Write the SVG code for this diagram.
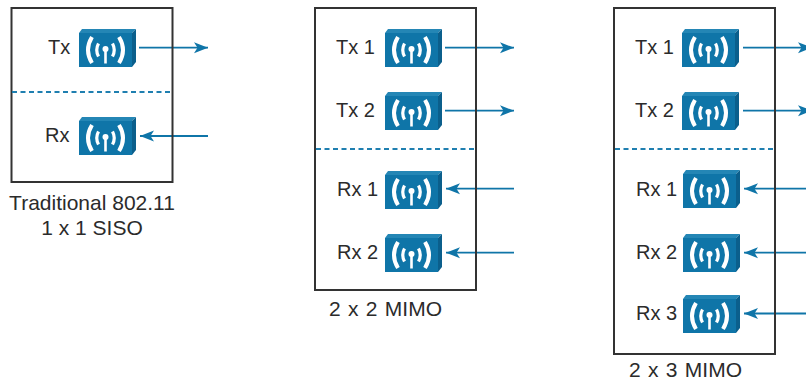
<svg xmlns="http://www.w3.org/2000/svg" width="806" height="382" viewBox="0 0 806 382">
<style>
.box{fill:none;stroke:#333;stroke-width:2}
.div{fill:none;stroke:#1f7fb0;stroke-width:2;stroke-dasharray:5 3.500}
.wire{fill:none;stroke:#0f75a8;stroke-width:1.800}
text{font-family:"Liberation Sans",Arial,sans-serif;font-size:21px;fill:#2b2b2b}
.l{font-size:20px}
.m{text-anchor:middle}
.s{word-spacing:1.500px}
.g{fill:none;stroke:#fff}
</style>
<defs>
<marker id="head" markerUnits="userSpaceOnUse" markerWidth="15" markerHeight="12" refX="14" refY="6" orient="auto"><path d="M0 0.500L14 6L0 11.500L3.500 6Z" fill="#0f75a8"/></marker>
<g id="ap">
<path d="M0 4L3 0H57L53 4Z" fill="#2486b5"/>
<path d="M53 4L57 0V33L53 38Z" fill="#0b5f8c"/>
<rect x="0" y="4" width="53" height="34" fill="#0f75a8"/>
<path class="g" stroke-width="4" d="M13 8Q5 21 13 34M40 8Q48 21 40 34"/>
<path class="g" stroke-width="3.200" d="M19.500 14.500Q16 21 19.500 27.500M33.500 14.500Q37 21 33.500 27.500"/>
<path d="M26.500 34.500V20" stroke="#fff" stroke-width="2.600" fill="none"/>
<circle cx="26.500" cy="20" r="3" fill="#fff"/>
</g>
</defs>
<g id="connectors">
<path class="wire" marker-end="url(#head)" d="M139 47.700H208"/>
<path class="wire" marker-end="url(#head)" d="M208 136H140"/>
<path class="wire" marker-end="url(#head)" d="M445 47.700H514"/>
<path class="wire" marker-end="url(#head)" d="M445 110.700H514"/>
<path class="wire" marker-end="url(#head)" d="M514 188.700H446"/>
<path class="wire" marker-end="url(#head)" d="M514 252.700H446"/>
<path class="wire" marker-end="url(#head)" d="M743 47.700H812"/>
<path class="wire" marker-end="url(#head)" d="M743 110.700H812"/>
<path class="wire" marker-end="url(#head)" d="M813 188.700H744"/>
<path class="wire" marker-end="url(#head)" d="M813 252.700H744"/>
<path class="wire" marker-end="url(#head)" d="M813 313.500H744"/>
</g>
<g id="siso">
<rect class="box" x="11.500" y="8" width="161" height="174"/>
<path class="div" d="M12 92H172"/>
<text class="m" x="92" y="210">Traditional 802.11</text>
<text class="m" x="92" y="235">1 x 1 SISO</text>
</g>
<g id="siso-tx"><text class="l" x="48" y="54">Tx</text><use href="#ap" x="79" y="29"/></g>
<g id="siso-rx"><text class="l" x="45" y="142">Rx</text><use href="#ap" x="79" y="117"/></g>
<g id="mimo22">
<rect class="box" x="315" y="8" width="161" height="282"/>
<path class="div" d="M316 149H476"/>
<text class="s" x="329" y="316">2 x 2 MIMO</text>
</g>
<g id="m22-tx1"><text class="l" x="336" y="54">Tx 1</text><use href="#ap" x="385" y="29"/></g>
<g id="m22-tx2"><text class="l" x="336" y="117">Tx 2</text><use href="#ap" x="385" y="92"/></g>
<g id="m22-rx1"><text class="l" x="337" y="196">Rx 1</text><use href="#ap" x="385" y="171"/></g>
<g id="m22-rx2"><text class="l" x="337" y="259">Rx 2</text><use href="#ap" x="385" y="234"/></g>
<g id="mimo23">
<rect class="box" x="614" y="8" width="161" height="346"/>
<path class="div" d="M615 149H775"/>
<text class="s" x="629" y="377">2 x 3 MIMO</text>
</g>
<g id="m23-tx1"><text class="l" x="635" y="54">Tx 1</text><use href="#ap" x="682" y="29"/></g>
<g id="m23-tx2"><text class="l" x="635" y="117">Tx 2</text><use href="#ap" x="682" y="92"/></g>
<g id="m23-rx1"><text class="l" x="636" y="196">Rx 1</text><use href="#ap" x="683" y="170"/></g>
<g id="m23-rx2"><text class="l" x="636" y="259">Rx 2</text><use href="#ap" x="683" y="234"/></g>
<g id="m23-rx3"><text class="l" x="636" y="320">Rx 3</text><use href="#ap" x="683" y="295"/></g>
</svg>
